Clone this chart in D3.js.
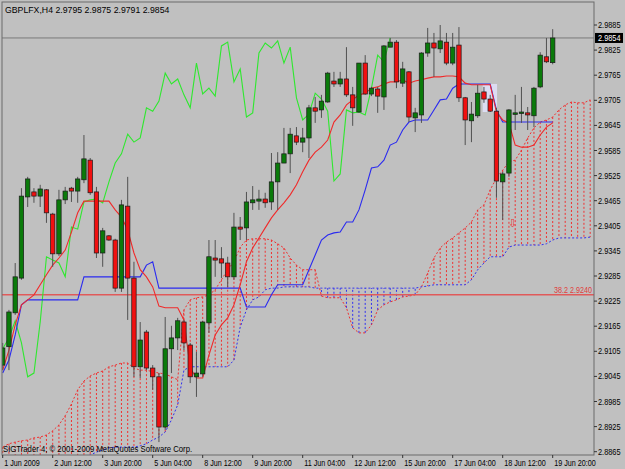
<!DOCTYPE html>
<html>
<head>
<meta charset="utf-8">
<script src="https://cdn.jsdelivr.net/npm/d3@7"></script>
<style>
    body { margin: 0; background: #c0c0c0; }
    svg text { font-family: 'Liberation Sans', Arial, sans-serif; font-size: 9px; }
</style>
</head>
<body>
<div id="chart"></div>
<script>
//Chart data (GBPLFX, H4)
const symbolTitle = "GBPLFX,H4  2.9795 2.9875 2.9791 2.9854";
const copyright = "SIGTrader 4, \u00a9 2001-2009 MetaQuotes Software Corp.";
const timeLabels = ["1 Jun 2009", "2 Jun 12:00", "3 Jun 20:00", "5 Jun 04:00", "8 Jun 12:00", "9 Jun 20:00",
    "11 Jun 04:00", "12 Jun 12:00", "15 Jun 20:00", "17 Jun 04:00", "18 Jun 12:00", "19 Jun 20:00"];
const timeLabelStep = 8;
const priceTicks = [2.9885, 2.9825, 2.9765, 2.9705, 2.9645, 2.9585, 2.9525, 2.9465, 2.9405, 2.9345,
    2.9285, 2.9225, 2.9165, 2.9105, 2.9045, 2.8985, 2.8925, 2.8865];
const bidPrice = 2.9854;
const fibLevels = [{name: "38.2", price: 2.9240}];

const opens = [2.9072, 2.9116, 2.9197, 2.9280, 2.9474, 2.9486, 2.9476, 2.9491, 2.9433, 2.9338,
    2.9467, 2.9495, 2.9488, 2.9515, 2.9562, 2.9486, 2.9340, 2.9381, 2.9371, 2.9256,
    2.9452, 2.9280, 2.9068, 2.9151, 2.9065, 2.9044, 2.8924, 2.9111, 2.9137, 2.9175,
    2.9120, 2.9044, 2.9051, 2.9173, 2.9328, 2.9326, 2.9316, 2.9283, 2.9402, 2.9400,
    2.9460, 2.9464, 2.9469, 2.9462, 2.9510, 2.9555, 2.9577, 2.9620, 2.9605, 2.9615,
    2.9687, 2.9682, 2.9701, 2.9751, 2.9744, 2.9756, 2.9718, 2.9677, 2.9794, 2.9720,
    2.9732, 2.9713, 2.9832, 2.9844, 2.9746, 2.9773, 2.9663, 2.9670, 2.9818, 2.9842,
    2.9828, 2.9844, 2.9794, 2.9837, 2.9711, 2.9656, 2.9668, 2.9725, 2.9708, 2.9679,
    2.9510, 2.9531, 2.9672, 2.9675, 2.9675, 2.9668, 2.9737, 2.9809, 2.9795];
const highs = [2.9125, 2.9204, 2.9316, 2.9495, 2.9522, 2.9495, 2.9503, 2.9493, 2.9436, 2.9491,
    2.9498, 2.9498, 2.9522, 2.9622, 2.9567, 2.9498, 2.9400, 2.9383, 2.9374, 2.9467,
    2.9522, 2.9319, 2.9175, 2.9156, 2.9072, 2.9053, 2.9187, 2.9166, 2.9185, 2.9180,
    2.9125, 2.9104, 2.9178, 2.9371, 2.9371, 2.9354, 2.9331, 2.9436, 2.9426, 2.9486,
    2.9500, 2.9491, 2.9484, 2.9579, 2.9581, 2.9639, 2.9639, 2.9641, 2.9639, 2.9694,
    2.9713, 2.9718, 2.9773, 2.9773, 2.9773, 2.9832, 2.9737, 2.9794, 2.9813, 2.9737,
    2.9737, 2.9837, 2.9854, 2.9849, 2.9797, 2.9775, 2.9687, 2.9820, 2.9878, 2.9866,
    2.9885, 2.9866, 2.9866, 2.9880, 2.9713, 2.9701, 2.9742, 2.9737, 2.9718, 2.9687,
    2.9534, 2.9684, 2.9718, 2.9737, 2.9689, 2.9737, 2.9820, 2.9854, 2.9875];
const lows = [2.9060, 2.9060, 2.9192, 2.9276, 2.9450, 2.9460, 2.9450, 2.9412, 2.9307, 2.9333,
    2.9457, 2.9462, 2.9460, 2.9507, 2.9479, 2.9328, 2.9307, 2.9369, 2.9247, 2.9247,
    2.9180, 2.9044, 2.9041, 2.9060, 2.9013, 2.8888, 2.8917, 2.9053, 2.9108, 2.9108,
    2.9029, 2.8996, 2.9044, 2.9149, 2.9283, 2.9280, 2.9259, 2.9276, 2.9371, 2.9371,
    2.9443, 2.9443, 2.9448, 2.9443, 2.9443, 2.9555, 2.9531, 2.9598, 2.9581, 2.9567,
    2.9651, 2.9663, 2.9699, 2.9737, 2.9737, 2.9713, 2.9644, 2.9675, 2.9718, 2.9715,
    2.9675, 2.9682, 2.9832, 2.9734, 2.9737, 2.9653, 2.9629, 2.9651, 2.9809, 2.9761,
    2.9818, 2.9789, 2.9789, 2.9701, 2.9598, 2.9605, 2.9663, 2.9699, 2.9677, 2.9472,
    2.9419, 2.9522, 2.9634, 2.9651, 2.9634, 2.9641, 2.9734, 2.9794, 2.9791];
const closes = [2.9113, 2.9199, 2.9283, 2.9476, 2.9517, 2.9476, 2.9493, 2.9436, 2.9338, 2.9467,
    2.9488, 2.9488, 2.9517, 2.9565, 2.9484, 2.9340, 2.9393, 2.9371, 2.9256, 2.9455,
    2.9280, 2.9068, 2.9132, 2.9065, 2.9044, 2.8924, 2.9111, 2.9137, 2.9178, 2.9125,
    2.9044, 2.9053, 2.9175, 2.9331, 2.9323, 2.9316, 2.9283, 2.9402, 2.9397, 2.9462,
    2.9467, 2.9469, 2.9460, 2.9510, 2.9555, 2.9577, 2.9624, 2.9605, 2.9615, 2.9687,
    2.9679, 2.9703, 2.9770, 2.9744, 2.9756, 2.9718, 2.9687, 2.9794, 2.9720, 2.9734,
    2.9715, 2.9835, 2.9844, 2.9749, 2.9780, 2.9665, 2.9675, 2.9818, 2.9842, 2.9830,
    2.9847, 2.9794, 2.9832, 2.9711, 2.9658, 2.9672, 2.9722, 2.9708, 2.9679, 2.9512,
    2.9529, 2.9682, 2.9675, 2.9677, 2.9670, 2.9734, 2.9813, 2.9797, 2.9854];

//Ichimoku lines
const tenkan = [2.9060, 2.9108, 2.9168, 2.9216, 2.9228, 2.9240, 2.9264, 2.9288, 2.9311, 2.9328,
    2.9347, 2.9390, 2.9436, 2.9464, 2.9464, 2.9464, 2.9464, 2.9464, 2.9443, 2.9426,
    2.9395, 2.9340, 2.9300, 2.9283, 2.9259, 2.9213, 2.9209, 2.9209, 2.9209, 2.9180,
    2.9065, 2.9041, 2.9041, 2.9096, 2.9144, 2.9168, 2.9185, 2.9216, 2.9264, 2.9319,
    2.9352, 2.9376, 2.9400, 2.9424, 2.9443, 2.9460, 2.9479, 2.9503, 2.9534, 2.9562,
    2.9581, 2.9593, 2.9610, 2.9653, 2.9670, 2.9694, 2.9706, 2.9718, 2.9722, 2.9734,
    2.9737, 2.9744, 2.9749, 2.9749, 2.9754, 2.9746, 2.9751, 2.9754, 2.9758, 2.9761,
    2.9761, 2.9763, 2.9763, 2.9761, 2.9746, 2.9742, 2.9742, 2.9742, 2.9742, 2.9677,
    2.9658, 2.9651, 2.9598, 2.9593, 2.9593, 2.9598, 2.9622, 2.9641, 2.9651];
const kijun = [2.9053, 2.9084, 2.9144, 2.9216, 2.9228, 2.9228, 2.9228, 2.9228, 2.9228, 2.9228,
    2.9228, 2.9228, 2.9228, 2.9283, 2.9283, 2.9283, 2.9283, 2.9283, 2.9283, 2.9283,
    2.9283, 2.9283, 2.9283, 2.9311, 2.9319, 2.9256, 2.9256, 2.9256, 2.9256, 2.9256,
    2.9256, 2.9256, 2.9256, 2.9256, 2.9256, 2.9256, 2.9256, 2.9256, 2.9256, 2.9211,
    2.9211, 2.9211, 2.9211, 2.9240, 2.9264, 2.9264, 2.9264, 2.9264, 2.9264, 2.9300,
    2.9335, 2.9371, 2.9383, 2.9388, 2.9390, 2.9414, 2.9414, 2.9443, 2.9491, 2.9543,
    2.9546, 2.9562, 2.9598, 2.9605, 2.9634, 2.9653, 2.9658, 2.9658, 2.9658, 2.9682,
    2.9706, 2.9708, 2.9734, 2.9744, 2.9744, 2.9744, 2.9744, 2.9744, 2.9744, 2.9682,
    2.9653, 2.9653, 2.9653, 2.9653, 2.9653, 2.9653, 2.9653, 2.9653, 2.9653];
const spanA = [2.8876, 2.8884, 2.8888, 2.8891, 2.8893, 2.8898, 2.8900, 2.8905, 2.8915, 2.8929,
    2.8951, 2.8979, 2.9013, 2.9034, 2.9046, 2.9053, 2.9058, 2.9068, 2.9072, 2.9077,
    2.9077, 2.9065, 2.9060, 2.9060, 2.9056, 2.9053, 2.9051, 2.9044, 2.9037, 2.9204,
    2.9228, 2.9233, 2.9235, 2.9240, 2.9252, 2.9276, 2.9300, 2.9319, 2.9354, 2.9371,
    2.9374, 2.9374, 2.9374, 2.9371, 2.9362, 2.9352, 2.9328, 2.9311, 2.9300, 2.9300,
    2.9300, 2.9237, 2.9233, 2.9233, 2.9233, 2.9209, 2.9161, 2.9149, 2.9149, 2.9168,
    2.9204, 2.9216, 2.9223, 2.9228, 2.9235, 2.9237, 2.9240, 2.9259, 2.9292, 2.9328,
    2.9352, 2.9366, 2.9376, 2.9388, 2.9400, 2.9414, 2.9443, 2.9455, 2.9491, 2.9519,
    2.9538, 2.9558, 2.9562, 2.9586, 2.9615, 2.9639, 2.9653, 2.9658, 2.9665, 2.9682,
    2.9694, 2.9701, 2.9699, 2.9699, 2.9706];
const spanB = [2.8822, 2.8826, 2.8831, 2.8833, 2.8836, 2.8838, 2.8841, 2.8843, 2.8845, 2.8845,
    2.8848, 2.8850, 2.8853, 2.8855, 2.8857, 2.8864, 2.8869, 2.8874, 2.8876, 2.8876,
    2.8876, 2.8876, 2.8879, 2.8884, 2.8893, 2.8900, 2.8912, 2.8941, 2.8977, 2.9060,
    2.9068, 2.9068, 2.9068, 2.9068, 2.9068, 2.9068, 2.9068, 2.9084, 2.9163, 2.9204,
    2.9228, 2.9235, 2.9252, 2.9256, 2.9256, 2.9259, 2.9259, 2.9259, 2.9259, 2.9259,
    2.9256, 2.9256, 2.9256, 2.9256, 2.9256, 2.9256, 2.9256, 2.9256, 2.9256, 2.9256,
    2.9256, 2.9256, 2.9256, 2.9256, 2.9256, 2.9256, 2.9256, 2.9259, 2.9261, 2.9264,
    2.9264, 2.9264, 2.9264, 2.9264, 2.9264, 2.9276, 2.9300, 2.9316, 2.9331, 2.9331,
    2.9331, 2.9354, 2.9359, 2.9359, 2.9359, 2.9359, 2.9359, 2.9362, 2.9371, 2.9376,
    2.9376, 2.9376, 2.9376, 2.9376, 2.9378];
const chikouShift = 26;

//Objects drawn on the chart
const boxes = [{from: 76.8, to: 79.1, top: 2.9744, bottom: 2.9677}];
const arrows = [{bar: 81.6, price: 2.9412}];

//Set up graph anchors
const width = 625, height = 469;
const plot = {left: 2, right: 594, top: 2, bottom: 455};

const svg = d3.select("#chart").append("svg")
    .attr("width", width)
    .attr("height", height)
    .style("display", "block")
    .style("background", "#c0c0c0");

const xScale = d3.scaleLinear()
    .domain([0, 88])
    .range([2.7, 552.7]);
const yScale = d3.scaleLinear()
    .domain([2.8865, 2.9885])
    .range([451.7, 25]);

//Terminal font is narrower than Arial, squeeze text horizontally
function squeeze(sel, x, y, sx) {
    return sel.attr("transform", "translate(" + x + "," + y + ") scale(" + sx + ",1)");
}

svg.append("clipPath")
    .attr("id", "plot-clip")
    .append("rect")
    .attr("x", plot.left)
    .attr("y", plot.top)
    .attr("width", plot.right - plot.left)
    .attr("height", plot.bottom - plot.top);

const plotG = svg.append("g").attr("clip-path", "url(#plot-clip)");

//Rectangle object
plotG.selectAll(".box-object")
    .data(boxes)
    .enter().append("rect")
    .attr("class", "box-object")
    .attr("x", d => xScale(d.from))
    .attr("y", d => yScale(d.top))
    .attr("width", d => xScale(d.to) - xScale(d.from))
    .attr("height", d => yScale(d.bottom) - yScale(d.top))
    .attr("fill", "#dcdcf2");

//Cloud hatching
const cloudIdx = d3.range(spanA.length);
plotG.selectAll(".cloud-hatch")
    .data(cloudIdx)
    .enter().append("line")
    .attr("class", "cloud-hatch")
    .attr("x1", i => xScale(i))
    .attr("x2", i => xScale(i))
    .attr("y1", i => yScale(spanA[i]))
    .attr("y2", i => yScale(spanB[i]))
    .attr("stroke", i => spanA[i] >= spanB[i] ? "#f03030" : "#3030f0")
    .attr("stroke-width", 1)
    .attr("stroke-dasharray", "2,2");

//Cloud borders
const priceLine = d3.line()
    .x((d, i) => xScale(i))
    .y(d => yScale(d));
plotG.append("path")
    .datum(spanA)
    .attr("d", priceLine)
    .attr("fill", "none")
    .attr("stroke", "#f03030")
    .attr("stroke-dasharray", "2,2");
plotG.append("path")
    .datum(spanB)
    .attr("d", priceLine)
    .attr("fill", "none")
    .attr("stroke", "#3030f0")
    .attr("stroke-dasharray", "2,2");

//Fibo level and bid line
plotG.selectAll(".fib-line")
    .data(fibLevels)
    .enter().append("line")
    .attr("class", "fib-line")
    .attr("x1", plot.left)
    .attr("x2", plot.right)
    .attr("y1", d => yScale(d.price))
    .attr("y2", d => yScale(d.price))
    .attr("stroke", "#e05a5a")
    .attr("stroke-width", 1.5);
plotG.selectAll(".fib-label")
    .data(fibLevels)
    .enter().append("text")
    .attr("class", "fib-label")
    .each(function (d) {
        squeeze(d3.select(this), plot.right - 2, yScale(d.price) - 2, 0.8);
    })
    .attr("text-anchor", "end")
    .attr("fill", "#e03c3c")
    .text(d => d.name + " " + d.price.toFixed(4));
plotG.append("line")
    .attr("x1", plot.left)
    .attr("x2", plot.right)
    .attr("y1", yScale(bidPrice))
    .attr("y2", yScale(bidPrice))
    .attr("stroke", "#7a7a7a")
    .attr("stroke-width", 1);

//Chikou span (closes shifted back)
const chikou = closes.slice(chikouShift);
plotG.append("path")
    .datum(chikou)
    .attr("d", priceLine)
    .attr("fill", "none")
    .attr("stroke", "#2ee82e")
    .attr("stroke-width", 1.1);

//Kijun and tenkan
plotG.append("path")
    .datum(kijun)
    .attr("d", priceLine)
    .attr("fill", "none")
    .attr("stroke", "#2a2af0")
    .attr("stroke-width", 1.1);
plotG.append("path")
    .datum(tenkan)
    .attr("d", priceLine)
    .attr("fill", "none")
    .attr("stroke", "#f02a2a")
    .attr("stroke-width", 1.1);

//Candles
const bars = d3.range(opens.length);
const candles = plotG.selectAll(".candle")
    .data(bars)
    .enter().append("g")
    .attr("class", "candle");
candles.append("line")
    .attr("x1", i => xScale(i))
    .attr("x2", i => xScale(i))
    .attr("y1", i => yScale(highs[i]))
    .attr("y2", i => yScale(lows[i]))
    .attr("stroke", "#505050")
    .attr("stroke-width", 1);
candles.append("rect")
    .attr("x", i => xScale(i) - 2.2)
    .attr("y", i => yScale(Math.max(opens[i], closes[i])))
    .attr("width", 4.4)
    .attr("height", i => Math.max(1.5, Math.abs(yScale(opens[i]) - yScale(closes[i]))))
    .attr("fill", i => closes[i] >= opens[i] ? "#0a7a0a" : "#f01010")
    .attr("stroke", "#1a1a1a")
    .attr("stroke-width", 0.7);

//Sell arrow
plotG.selectAll(".arrow-object")
    .data(arrows)
    .enter().append("text")
    .attr("class", "arrow-object")
    .attr("x", d => xScale(d.bar))
    .attr("y", d => yScale(d.price) + 4)
    .attr("text-anchor", "middle")
    .attr("fill", "#f03030")
    .style("font-family", "'DejaVu Sans', sans-serif")
    .style("font-size", "11px")
    .text("\u21e9");

//Frame
svg.append("rect")
    .attr("x", plot.left)
    .attr("y", plot.top)
    .attr("width", plot.right - plot.left)
    .attr("height", plot.bottom - plot.top)
    .attr("fill", "none")
    .attr("stroke", "#6a6a6a")
    .attr("stroke-width", 1);

//Price axis
const priceAxis = svg.append("g");
priceAxis.selectAll(".price-tick")
    .data(priceTicks)
    .enter().append("line")
    .attr("x1", plot.right)
    .attr("x2", plot.right + 3)
    .attr("y1", d => yScale(d))
    .attr("y2", d => yScale(d))
    .attr("stroke", "#333");
priceAxis.selectAll(".price-label")
    .data(priceTicks)
    .enter().append("text")
    .each(function (d) {
        squeeze(d3.select(this), plot.right + 4, yScale(d) + 3, 0.82);
    })
    .attr("fill", "#000")
    .text(d => d.toFixed(4));

//Bid price box
priceAxis.append("rect")
    .attr("x", plot.right + 1)
    .attr("y", yScale(bidPrice) - 5)
    .attr("width", 28)
    .attr("height", 10)
    .attr("fill", "#000");
squeeze(priceAxis.append("text"), plot.right + 4, yScale(bidPrice) + 3, 0.82)
    .attr("fill", "#fff")
    .text(bidPrice.toFixed(4));

//Time axis
const timeAxis = svg.append("g");
timeAxis.selectAll(".time-tick")
    .data(timeLabels)
    .enter().append("line")
    .attr("x1", (d, i) => xScale(i * timeLabelStep))
    .attr("x2", (d, i) => xScale(i * timeLabelStep))
    .attr("y1", plot.bottom)
    .attr("y2", plot.bottom + 3)
    .attr("stroke", "#333");
timeAxis.selectAll(".time-label")
    .data(timeLabels)
    .enter().append("text")
    .each(function (d, i) {
        squeeze(d3.select(this), xScale(i * timeLabelStep) + 1.5, plot.bottom + 11, 0.8);
    })
    .attr("fill", "#000")
    .text(d => d);

//Title and copyright
squeeze(svg.append("text"), 5, 13, 0.97)
    .attr("fill", "#000")
    .text(symbolTitle);
squeeze(svg.append("text"), 3, 452, 0.86)
    .attr("fill", "#000")
    .text(copyright);
</script>
</body>
</html>
